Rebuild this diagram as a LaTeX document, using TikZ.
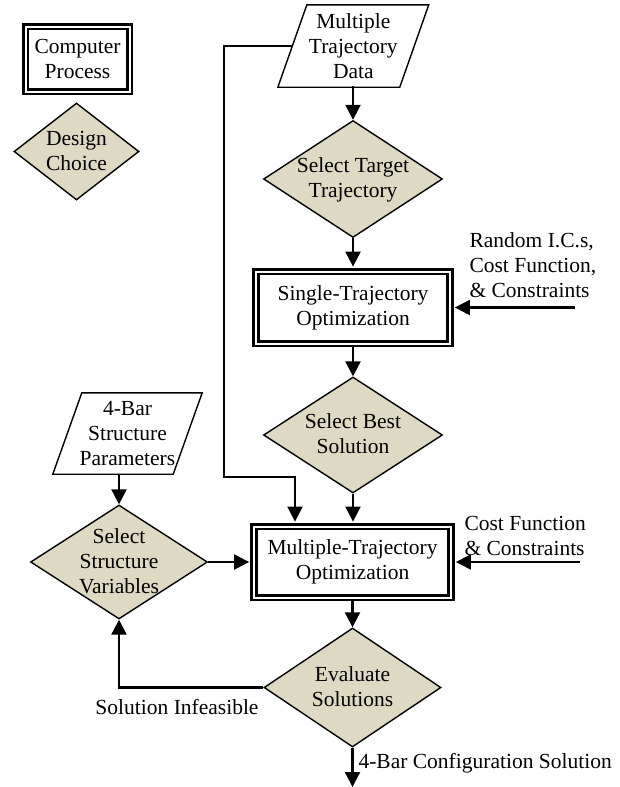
\documentclass[tikz,border=0pt]{standalone}
\usepackage{fontspec}
\setmainfont{Liberation Serif}
\usetikzlibrary{shapes.geometric,arrows.meta}
\definecolor{dfill}{HTML}{DDD9C3}
\newcommand{\ctext}[1]{\smash{\makebox[0pt]{\raisebox{-0.3em}{\begin{tabular}{@{}c@{}}#1\end{tabular}}}}}
\begin{document}
\begin{tikzpicture}[x=1pt,y=-1pt,
  every node/.style={font=\fontsize{21.5}{25}\selectfont},
  proc/.style={draw, double, double distance=2pt, line width=2.6pt, inner sep=0pt, align=center},
  choice/.style={diamond, draw, fill=dfill, line width=1.4pt, inner sep=0pt},
  dataio/.style={inner sep=0pt, align=center},
  pgram/.style={line width=1.4pt, line join=miter},
  arr/.style={line width=2.2pt, -{Triangle[width=15pt,length=15pt]}}]
\useasboundingbox (0,0) rectangle (620,787);

\node[proc, minimum width=104pt, minimum height=65pt] (cp) at (77.5,59) {Computer\\Process};
\node[choice, minimum width=125pt, minimum height=97pt] (dc) at (76.5,151.5) {\ctext{Design\\Choice}};
\node[dataio, minimum width=121.5pt, minimum height=82pt] (mtd) at (353.3,46) {Multiple\\Trajectory\\Data};
\draw[pgram] ([xshift=14.5pt]mtd.north west) -- ([xshift=14.5pt]mtd.north east) -- ([xshift=-14.5pt]mtd.south east) -- ([xshift=-14.5pt]mtd.south west) -- cycle;
\node[choice, minimum width=179pt, minimum height=117pt] (stt) at (353,179) {\ctext{Select Target\\Trajectory}};
\node[proc, minimum width=194pt, minimum height=72pt] (sto) at (353,307.5) {Single-Trajectory\\Optimization};
\node[choice, minimum width=179pt, minimum height=116pt] (sbs) at (353,435) {\ctext{Select Best\\Solution}};
\node[proc, minimum width=197pt, minimum height=71pt] (mto) at (352.5,562) {Multiple-Trajectory\\Optimization};
\node[choice, minimum width=177pt, minimum height=119pt] (ev) at (352.5,687.5) {\ctext{Evaluate\\Solutions}};
\node[dataio, minimum width=120pt, minimum height=81pt] (fbp) at (127.5,433.5) {4-Bar\\Structure\\Parameters};
\draw[pgram] ([xshift=14.5pt]fbp.north west) -- ([xshift=14.5pt]fbp.north east) -- ([xshift=-14.5pt]fbp.south east) -- ([xshift=-14.5pt]fbp.south west) -- cycle;
\node[choice, minimum width=177pt, minimum height=114pt] (ssv) at (119,562) {\ctext{Select\\Structure\\Variables}};

\node[anchor=west, align=left] (ric) at (466,265) {Random I.C.s,\\Cost Function,\\\& Constraints};
\node[anchor=west, align=left] (cfc) at (461,535.5) {Cost Function\\\& Constraints};
\node[anchor=west] (cfg) at (355,763) {4-Bar Configuration Solution};
\node (si) at (177,707) {Solution Infeasible};

\coordinate (ricin) at (575,307.5);
\coordinate (cfcin) at (580,562);
\coordinate (outend) at (352.5,787);
\coordinate (k1) at (224,477);
\coordinate (k2) at (295,477);

\draw[arr] (mtd.south) -- (mtd.south -| stt.north) -- (stt.north);
\draw[arr, shorten >=3.6pt] (stt.south) -- (sto.north);
\draw[arr] (sto.south) -- (sbs.north);
\draw[arr, shorten >=3.6pt] (sbs.south) -- (sbs.south |- mto.north);
\draw[arr] (mto.south) -- (mto.south -| ev.north) -- (ev.north);
\draw[arr] (ev.south) -- (outend);
\draw[arr, shorten >=3.6pt] (ricin) -- (sto.east);
\draw[arr, shorten >=3.6pt] (cfcin) -- (mto.east);
\draw[arr] (ssv.north |- fbp.south) -- (ssv.north);
\draw[arr, shorten >=3.6pt] (ssv.east) -- (mto.west);
\draw[arr] (ev.west) -| (ssv.south);
\draw[arr, shorten >=3.6pt] (mtd.west) -| (k1) -- (k2) -- (k2 |- mto.north);
\end{tikzpicture}
\end{document}
